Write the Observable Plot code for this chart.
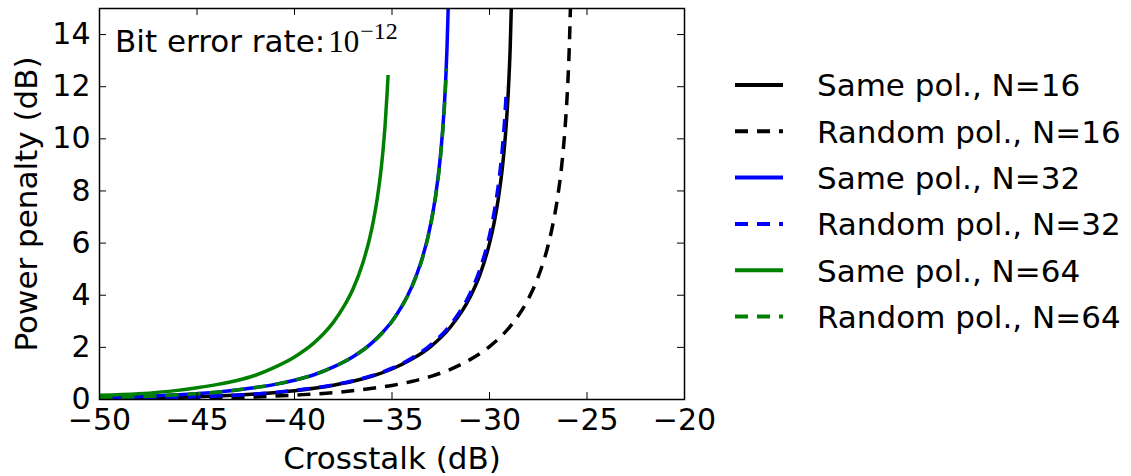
<!DOCTYPE html>
<html>
<head>
<meta charset="utf-8">
<script src="https://cdn.jsdelivr.net/npm/d3@7"></script>
<script src="https://cdn.jsdelivr.net/npm/@observablehq/plot@0.6"></script>
<style>
  html, body { margin: 0; padding: 0; background: #ffffff; }
  #chart { width: 1131px; height: 476px; }
</style>
</head>
<body>
<div id="chart"></div>
<script>
// ---------------- data ----------------
const seriesNames = ["Same pol., N=16", "Random pol., N=16", "Same pol., N=32", "Random pol., N=32", "Same pol., N=64", "Random pol., N=64"];

const same16X = [-50, -48, -46, -44, -42, -40, -38, -37, -36, -35, -34, -33, -32, -31, -30.5, -30, -29.74, -29.54, -29.34, -29.24, -29.14, -29.04, -28.94, -28.86];
const same16Y = [0.03, 0.05, 0.08, 0.13, 0.21, 0.34, 0.55, 0.70, 0.90, 1.17, 1.54, 2.04, 2.78, 3.92, 4.77, 5.99, 6.87, 7.74, 8.89, 9.64, 10.56, 11.76, 13.47, 15.6];

const random16X = [-50, -48, -46, -44, -42, -40, -38, -36, -35, -34, -33, -32, -31, -30, -29, -28.5, -28, -27.5, -27, -26.71, -26.51, -26.31, -26.21, -26.11, -26.01, -25.91, -25.83];
const random16Y = [0.02, 0.03, 0.04, 0.07, 0.10, 0.17, 0.26, 0.43, 0.54, 0.69, 0.89, 1.16, 1.53, 2.03, 2.75, 3.24, 3.87, 4.71, 5.90, 6.87, 7.74, 8.89, 9.64, 10.56, 11.76, 13.47, 15.6];

const same32X = [-50, -48, -46, -44, -42, -41, -40, -39, -38, -37, -36, -35.5, -35, -34.5, -34, -33.5, -33.18, -32.98, -32.78, -32.58, -32.48, -32.38, -32.28, -32.23, -32.18, -32.13, -32.1];
const same32Y = [0.07, 0.11, 0.18, 0.28, 0.46, 0.58, 0.74, 0.95, 1.25, 1.64, 2.19, 2.56, 3.00, 3.57, 4.30, 5.30, 6.17, 6.87, 7.74, 8.89, 9.64, 10.56, 11.76, 12.53, 13.47, 14.70, 15.6];

const random32X = [-50, -48, -46, -44, -42, -40, -38, -37, -36, -35, -34, -33, -32, -31, -30.5, -30, -29.84, -29.64, -29.44, -29.34, -29.24, -29.14, -29.12];
const random32Y = [0.03, 0.05, 0.08, 0.13, 0.21, 0.35, 0.56, 0.72, 0.92, 1.20, 1.58, 2.11, 2.87, 4.07, 4.98, 6.30, 6.87, 7.74, 8.89, 9.64, 10.56, 11.76, 11.95];

const same64X = [-50, -48, -46, -45, -44, -43, -42, -41, -40, -39, -38.5, -38, -37.5, -37, -36.5, -36.15, -35.95, -35.75, -35.55, -35.45, -35.35, -35.25, -35.2];
const same64Y = [0.16, 0.22, 0.35, 0.45, 0.57, 0.72, 0.93, 1.24, 1.63, 2.17, 2.53, 2.97, 3.53, 4.24, 5.23, 6.17, 6.87, 7.74, 8.89, 9.64, 10.56, 11.76, 12.45];

const random64X = [-50, -48, -46, -44, -42, -41, -40, -39, -38, -37, -36, -35.5, -35, -34.5, -34, -33.5, -33.17, -32.97, -32.77, -32.57, -32.47, -32.37, -32.27, -32.21];
const random64Y = [0.07, 0.11, 0.18, 0.28, 0.46, 0.58, 0.74, 0.95, 1.25, 1.64, 2.18, 2.55, 2.99, 3.56, 4.28, 5.27, 6.17, 6.87, 7.74, 8.89, 9.64, 10.56, 11.76, 12.7];

const xTicks = [-50, -45, -40, -35, -30, -25, -20];
const yTicks = [0, 2, 4, 6, 8, 10, 12, 14];
const xLabel = "Crosstalk (dB)";
const yLabel = "Power penalty (dB)";
const annotationText = "Bit error rate:";
const annotationBase = "10";
const annotationExp = "\u221212";

// ---------------- styles ----------------
const seriesStyle = {
  "Same pol., N=16":   {color: "#000000", dash: null},
  "Random pol., N=16": {color: "#000000", dash: "13,9"},
  "Same pol., N=32":   {color: "#0000ff", dash: null},
  "Random pol., N=32": {color: "#0000ff", dash: "13,9"},
  "Same pol., N=64":   {color: "#008000", dash: null},
  "Random pol., N=64": {color: "#008000", dash: "13,9"}
};

const seriesData = [
  [same16X, same16Y], [random16X, random16Y],
  [same32X, same32Y], [random32X, random32Y],
  [same64X, same64Y], [random64X, random64Y]
];

const rows = seriesNames.flatMap((name, k) =>
  seriesData[k][0].map((x, i) => ({series: name, crosstalk: x, penalty: seriesData[k][1][i]}))
);

// ---------------- layout ----------------
const W = 1131, H = 476;
const mL = 99, mR = 447, mT = 8, mB = 77;
const plotW = W - mL - mR, plotH = H - mT - mB;
const FONT = "'DejaVu Sans', sans-serif";
const LABEL_SIZE = 31;

const lineMarks = seriesNames.map(name => {
  const st = seriesStyle[name];
  const opts = {
    x: "crosstalk", y: "penalty",
    stroke: st.color, strokeWidth: 3.5,
    strokeLinecap: "butt", strokeLinejoin: "round",
    curve: "monotone-x", clip: true
  };
  if (st.dash) opts.strokeDasharray = st.dash;
  return Plot.line(rows.filter(r => r.series === name), opts);
});

const svgEl = Plot.plot({
  width: W, height: H,
  marginLeft: mL, marginRight: mR, marginTop: mT, marginBottom: mB,
  style: {fontFamily: FONT, fontSize: "30px", color: "#000000", background: "#ffffff", overflow: "visible"},
  x: {domain: [-50, -20]},
  y: {domain: [0, 15]},
  marks: [
    ...lineMarks,
    Plot.tickX(xTicks, {x: d => d, stroke: "#000000", strokeWidth: 1, insetTop: plotH - 7}),
    Plot.tickX(xTicks, {x: d => d, stroke: "#000000", strokeWidth: 1, insetBottom: plotH - 7}),
    Plot.tickY(yTicks, {y: d => d, stroke: "#000000", strokeWidth: 1, insetLeft: plotW - 7}),
    Plot.tickY(yTicks, {y: d => d, stroke: "#000000", strokeWidth: 1, insetRight: plotW - 7}),
    Plot.axisX(xTicks, {anchor: "bottom", tickSize: 0, tickPadding: 9, label: null, fontSize: 30}),
    Plot.axisY(yTicks, {anchor: "left", tickSize: 0, tickPadding: 9, label: null, fontSize: 30}),
    Plot.frame({stroke: "#000000", strokeWidth: 1.5}),
    Plot.text([xLabel], {frameAnchor: "bottom", textAnchor: "middle", lineAnchor: "middle", dy: 60, fontSize: LABEL_SIZE, fill: "#000000"}),
    Plot.text([yLabel], {frameAnchor: "left", textAnchor: "middle", lineAnchor: "middle", dx: -72, rotate: -90, fontSize: LABEL_SIZE, fill: "#000000"})
  ]
});

document.getElementById("chart").appendChild(svgEl);
const svg = d3.select(svgEl);

// annotation inside the axes
const ann = svg.append("text")
  .attr("x", 115).attr("y", 52).attr("text-anchor", "start")
  .attr("font-family", FONT).attr("font-size", LABEL_SIZE).attr("fill", "#000000");
ann.append("tspan").text(annotationText);
ann.append("tspan").attr("font-family", "'Liberation Serif', serif").attr("dx", 3).text(annotationBase);
ann.append("tspan").attr("font-family", "'Liberation Serif', serif").attr("font-size", 24).attr("dx", 1).attr("dy", -13).text(annotationExp);

// legend on the right
const lg = svg.append("g").attr("font-family", FONT).attr("font-size", LABEL_SIZE).attr("fill", "#000000").attr("text-anchor", "start");
seriesNames.forEach((name, i) => {
  const cy = 85 + i * 46.3;
  const st = seriesStyle[name];
  lg.append("line")
    .attr("x1", 735).attr("x2", 783).attr("y1", cy).attr("y2", cy)
    .attr("stroke", st.color).attr("stroke-width", 4)
    .attr("stroke-dasharray", st.dash);
  lg.append("text").attr("x", 817).attr("y", cy + 11.3).text(name);
});
</script>
</body>
</html>
